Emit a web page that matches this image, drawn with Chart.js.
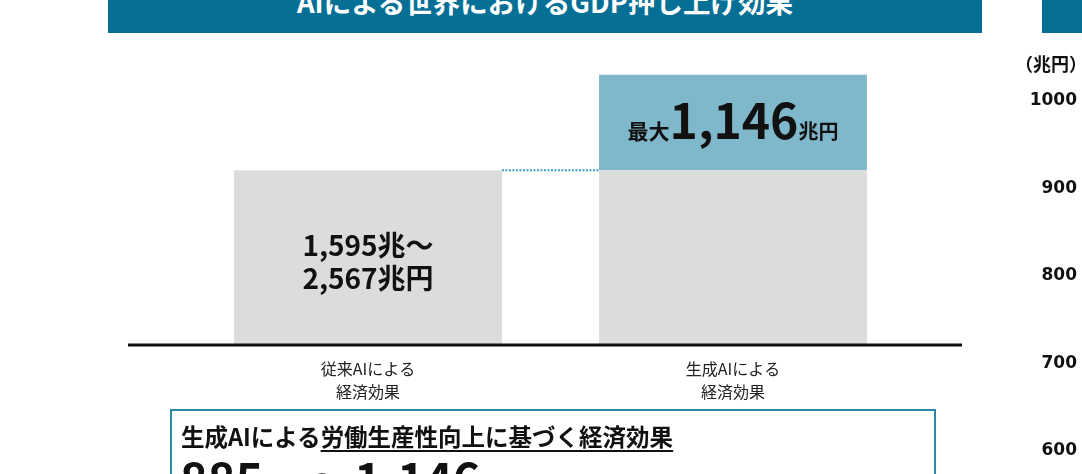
<!DOCTYPE html>
<html lang="ja">
<head>
<meta charset="utf-8">
<script src="https://cdn.jsdelivr.net/npm/chart.js@4.4.1/dist/chart.umd.min.js"></script>
<style>
  html, body { margin: 0; padding: 0; background: #fff; }
  body { width: 1082px; height: 474px; overflow: hidden; position: relative;
         font-family: "Noto Sans CJK JP", "Noto Sans", sans-serif; color: #111; }
  .banner { position: absolute; top: 0; height: 33px; background: #066f95; overflow: hidden; }
  .banner span { position: absolute; left: 0; right: 0; top: -13px; text-align: center;
                 color: #fff; font-weight: bold; font-size: 27.5px; line-height: 28px; }
  #mainWrap { position: absolute; left: 108px; top: 0; width: 874px; height: 420px; }
  #axisWrap { position: absolute; left: 942px; top: 85px; width: 140px; height: 390px; }
  .unit { position: absolute; right: -5px; top: 50px; font-weight: bold; font-size: 18px; }
  .note { position: absolute; left: 170px; top: 409px; width: 762px; height: 90px;
          border: 2px solid #2e87a3; box-sizing: content-box; }
  .note .l1 { position: absolute; left: 9px; top: 10px; font-weight: bold; font-size: 23.5px;
              line-height: 30px; white-space: nowrap; }
  .note .l1 u { text-decoration-thickness: 2px; text-underline-offset: 4px; }
  .note .l2 { position: absolute; left: 8px; top: 37px; font-weight: bold; white-space: nowrap;
              line-height: 60px; }
  .note .big { font-size: 47px; }
  .note .small { font-size: 22px; }
</style>
</head>
<body>
<div class="banner" style="left:108px;width:874px;"><span>AIによる世界におけるGDP押し上げ効果</span></div>
<div class="banner" style="left:1042px;width:40px;"></div>

<div id="mainWrap"><canvas id="mainChart"></canvas></div>
<div id="axisWrap"><canvas id="axisChart"></canvas></div>
<div class="unit">（兆円）</div>

<div class="note">
  <div class="l1">生成AIによる<u>労働生産性向上に基づく経済効果</u></div>
  <div class="l2"><span class="big">885</span><span class="small">兆円</span><span class="big">～1,146</span><span class="small">兆円</span></div>
</div>

<script>
// カテゴリと値（模式図なので高さは相対値）
const categories = [['従来AIによる', '経済効果'], ['生成AIによる', '経済効果']];
const baseValues = [100, 100];   // 灰色部分
const addedValues = [0, 55];     // 生成AIによる上乗せ部分
const baseLabel = ['1,595兆～', '2,567兆円'];
const addedLabel = ['最大', '1,146', '兆円'];

// 右側の軸（別グラフの目盛）
const rightAxisMin = 600;
const rightAxisMax = 1000;
const rightAxisStep = 100;

const fontJP = '"Noto Sans CJK JP", "Noto Sans", sans-serif';

// 基準線を左右に延長して描く
const baselinePlugin = {
    id: 'baseline',
    afterDatasetsDraw(chart, args, opts) {
        const ctx = chart.ctx;
        const y = chart.scales.y.getPixelForValue(0) + 1;
        ctx.save();
        ctx.strokeStyle = '#111';
        ctx.lineWidth = 3;
        ctx.beginPath();
        ctx.moveTo(chart.chartArea.left - opts.extendLeft, y);
        ctx.lineTo(chart.chartArea.right + opts.extendRight, y);
        ctx.stroke();
        ctx.restore();
    }
};

// 棒の間の点線と棒内のテキスト
const barTextPlugin = {
    id: 'barText',
    afterDatasetsDraw(chart) {
        const ctx = chart.ctx;
        const base = chart.getDatasetMeta(0).data;
        const added = chart.getDatasetMeta(1).data;

        // 点線
        ctx.save();
        ctx.strokeStyle = '#3a9fc6';
        ctx.lineWidth = 2;
        ctx.setLineDash([2, 1.5]);
        ctx.beginPath();
        ctx.moveTo(base[0].x + base[0].width / 2, base[1].y);
        ctx.lineTo(base[1].x - base[1].width / 2, base[1].y);
        ctx.stroke();
        ctx.restore();

        // 従来AIの棒のラベル
        const b = base[0];
        const cy = (b.y + b.base) / 2;
        ctx.save();
        ctx.fillStyle = '#111';
        ctx.textAlign = 'center';
        ctx.textBaseline = 'middle';
        ctx.font = 'bold 28px ' + fontJP;
        ctx.fillText(baseLabel[0], b.x, cy - 12);
        ctx.fillText(baseLabel[1], b.x, cy + 21);
        ctx.restore();

        // 生成AIの上乗せ部分のラベル
        const a = added[1];
        const ay = (a.y + a.base) / 2 + 17;
        const fonts = ['bold 21px ' + fontJP, 'bold 48px ' + fontJP, 'bold 20px ' + fontJP];
        ctx.save();
        ctx.fillStyle = '#111';
        ctx.textBaseline = 'alphabetic';
        let total = 0;
        const widths = addedLabel.map((t, i) => {
            ctx.font = fonts[i];
            const w = ctx.measureText(t).width;
            total += w;
            return w;
        });
        let x = a.x - total / 2;
        addedLabel.forEach((t, i) => {
            ctx.font = fonts[i];
            ctx.fillText(t, x, ay);
            x += widths[i];
        });
        ctx.restore();
    }
};

window.onload = function() {
    new Chart(document.getElementById('mainChart').getContext('2d'), {
        type: 'bar',
        data: {
            labels: categories,
            datasets: [{
                label: '従来AI',
                data: baseValues,
                backgroundColor: '#dcdcdc',
                categoryPercentage: 1,
                barPercentage: 0.734
            }, {
                label: '生成AI',
                data: addedValues,
                backgroundColor: '#80b8cb',
                categoryPercentage: 1,
                barPercentage: 0.734
            }]
        },
        options: {
            responsive: true,
            maintainAspectRatio: false,
            animation: false,
            layout: { padding: { left: 77.5, right: 66.5, top: 66, bottom: 0 } },
            plugins: {
                legend: { display: false },
                tooltip: { enabled: false },
                baseline: { extendLeft: 57.5, extendRight: 46.5 }
            },
            scales: {
                x: {
                    stacked: true,
                    grid: { display: false },
                    border: { display: false },
                    ticks: {
                        color: '#222',
                        padding: 6,
                        font: { family: fontJP, size: 16, lineHeight: 1.4 }
                    },
                    afterFit(scale) { scale.height = 76; }
                },
                y: {
                    stacked: true,
                    display: false,
                    min: 0,
                    max: 160
                }
            }
        },
        plugins: [baselinePlugin, barTextPlugin]
    });

    new Chart(document.getElementById('axisChart').getContext('2d'), {
        type: 'line',
        data: { labels: [], datasets: [{ data: [] }] },
        options: {
            responsive: true,
            maintainAspectRatio: false,
            animation: false,
            layout: { padding: { top: 16, bottom: 24, right: 5, left: 0 } },
            plugins: { legend: { display: false }, tooltip: { enabled: false } },
            scales: {
                x: { display: false },
                y: {
                    position: 'right',
                    min: rightAxisMin,
                    max: rightAxisMax,
                    grid: { display: false },
                    border: { display: false },
                    ticks: {
                        stepSize: rightAxisStep,
                        crossAlign: 'far',
                        color: '#111',
                        font: { family: '"DejaVu Sans", sans-serif', size: 17, weight: 'bold' },
                        callback: value => String(value)
                    }
                }
            }
        }
    });
};
</script>
</body>
</html>
